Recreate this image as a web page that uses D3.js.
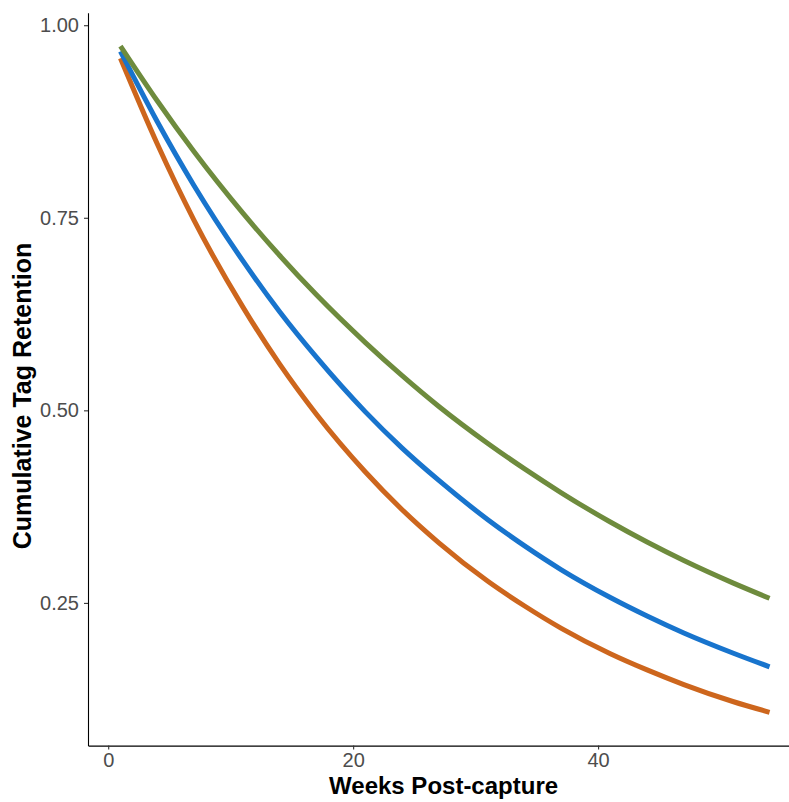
<!DOCTYPE html>
<html>
<head>
<meta charset="utf-8">
<script src="https://cdn.jsdelivr.net/npm/d3@7"></script>
<style>
  html, body { margin: 0; padding: 0; background: #fff; }
  svg { display: block; font-family: Arial, "Liberation Sans", sans-serif; }
</style>
</head>
<body>
<svg id="chart" width="789" height="802"></svg>
<script>
// Weeks after capture at which retention is given
const weeks = [1, 4, 7, 11, 14, 17, 21, 24, 27, 31, 34, 37, 41, 44, 47, 51, 54];

// Cumulative tag retention per group
const retentionGreen  = [0.973, 0.902, 0.836, 0.756, 0.701, 0.650, 0.588, 0.545, 0.505, 0.457, 0.424, 0.393, 0.355, 0.329, 0.305, 0.276, 0.256];
const retentionBlue   = [0.966, 0.875, 0.792, 0.694, 0.628, 0.569, 0.498, 0.451, 0.409, 0.358, 0.324, 0.293, 0.257, 0.233, 0.211, 0.185, 0.167];
const retentionOrange = [0.957, 0.846, 0.747, 0.634, 0.560, 0.495, 0.420, 0.371, 0.328, 0.278, 0.246, 0.217, 0.184, 0.163, 0.144, 0.122, 0.108];

const xTicks = [0, 20, 40];
const yTicks = [0.25, 0.50, 0.75, 1.00];

const seriesColors = ["#CD661D", "#1874CD", "#6E8B3D"];
const seriesValues = [retentionOrange, retentionBlue, retentionGreen];

const svg = d3.select("#chart");

// Panel geometry
const panel = { left: 88, top: 12.7, bottom: 745.6, right: 802 };

// Continuous scales with a 5% expansion on each side of the data range
const expand = (lo, hi) => { const p = (hi - lo) * 0.05; return [lo - p, hi + p]; };
const allVals = seriesValues.flat();
const x = d3.scaleLinear().domain(expand(d3.min(weeks), d3.max(weeks))).range([panel.left, panel.right]);
const y = d3.scaleLinear().domain(expand(d3.min(allVals), d3.max(allVals))).range([panel.bottom, panel.top]);

// Curves
const line = d3.line()
  .x(d => x(d[0]))
  .y(d => y(d[1]))
  .curve(d3.curveMonotoneX);

seriesValues.forEach((vals, i) => {
  svg.append("path")
    .datum(weeks.map((w, j) => [w, vals[j]]))
    .attr("fill", "none")
    .attr("stroke", seriesColors[i])
    .attr("stroke-width", 5)
    .attr("stroke-linecap", "butt")
    .attr("d", line);
});

// Axes
const xAxis = d3.axisBottom(x).tickValues(xTicks).tickSize(4).tickSizeOuter(0).tickPadding(3).tickFormat(d3.format("d"));
const yAxis = d3.axisLeft(y).tickValues(yTicks).tickSize(4).tickSizeOuter(0).tickPadding(5).tickFormat(d3.format(".2f"));

const gx = svg.append("g").attr("transform", `translate(0,${panel.bottom})`).call(xAxis);
const gy = svg.append("g").attr("transform", `translate(${panel.left},0)`).call(yAxis);

[gx, gy].forEach(g => {
  g.select(".domain").attr("stroke", "#000").attr("stroke-width", 1.1);
  g.selectAll(".tick line").attr("stroke", "#333").attr("stroke-width", 1.1);
  g.selectAll(".tick text")
    .attr("fill", "#4D4D4D")
    .style("font-size", "20px")
    .style("font-family", "Arial, 'Liberation Sans', sans-serif");
});

// Axis titles
svg.append("text")
  .attr("x", 443.6)
  .attr("y", 794)
  .attr("text-anchor", "middle")
  .style("font-size", "24px")
  .style("font-weight", "bold")
  .attr("fill", "#000")
  .text("Weeks Post-capture");

svg.append("text")
  .attr("transform", "translate(31,396) rotate(-90)")
  .attr("text-anchor", "middle")
  .style("font-size", "25px")
  .style("font-weight", "bold")
  .attr("fill", "#000")
  .text("Cumulative Tag Retention");
</script>
</body>
</html>
